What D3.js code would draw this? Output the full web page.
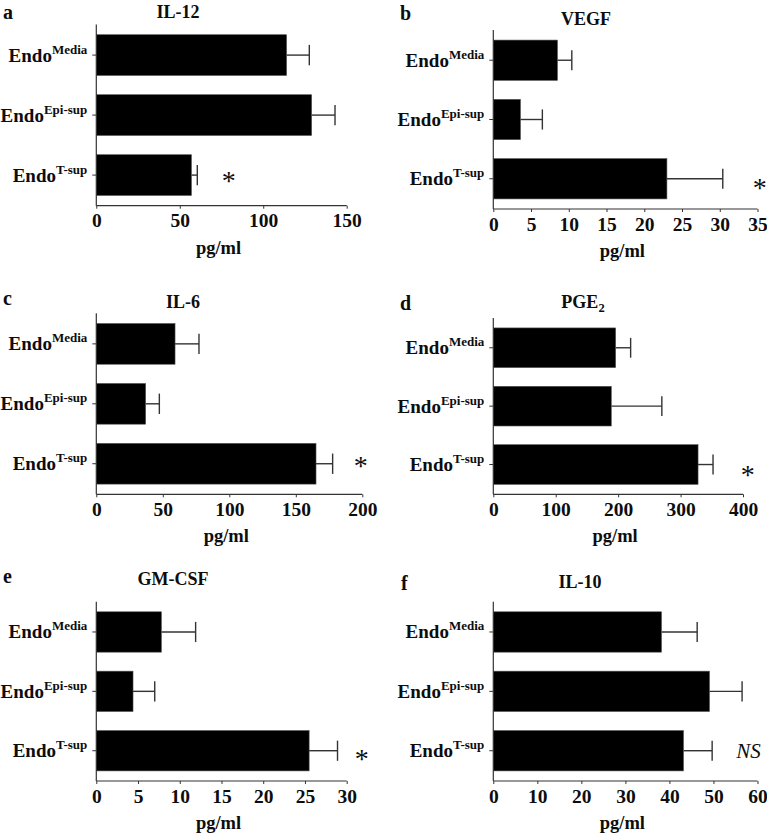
<!DOCTYPE html>
<html>
<head>
<meta charset="utf-8">
<script src="https://cdn.jsdelivr.net/npm/d3@7"></script>
<style>
  html, body { margin: 0; padding: 0; background: #fff; }
  svg { display: block; }
  text { font-family: "Liberation Serif", "Times New Roman", serif; }
</style>
</head>
<body>
<div id="chart"></div>
<script>
// ---- DATA ----
const categories = ["Media", "Epi-sup", "T-sup"];
const panelLetters = ["a", "b", "c", "d", "e", "f"];
const titles = ["IL-12", "VEGF", "IL-6", "PGE2", "GM-CSF", "IL-10"];
const axisLabel = "pg/ml";

const il12Means = [114, 129, 57];
const il12Errors = [13.6, 14, 3.5];
const il12Ticks = [0, 50, 100, 150];

const vegfMeans = [8.5, 3.6, 23.0];
const vegfErrors = [1.9, 2.9, 7.4];
const vegfTicks = [0, 5, 10, 15, 20, 25, 30, 35];

const il6Means = [59.2, 37.1, 165.2];
const il6Errors = [18, 10.3, 12.5];
const il6Ticks = [0, 50, 100, 150, 200];

const pge2Means = [196, 189, 328];
const pge2Errors = [24, 81, 24];
const pge2Ticks = [0, 100, 200, 300, 400];

const gmcsfMeans = [7.8, 4.4, 25.5];
const gmcsfErrors = [4.1, 2.6, 3.4];
const gmcsfTicks = [0, 5, 10, 15, 20, 25, 30];

const il10Means = [38.2, 49.1, 43.2];
const il10Errors = [8.1, 7.4, 6.5];
const il10Ticks = [0, 10, 20, 30, 40, 50, 60];

const significance = ["*", "*", "*", "*", "*", "NS"];

// ---- LAYOUT (positions only) ----
const layout = [
  { x0: 96.3,  x1: 346.7, top: 24.5,  bot: 205.7, tx: 178, ty: 18.3,  lx: 3,   ly: 18.5,  mx: 228.7, mdy: 2 },
  { x0: 493.3, x1: 757.5, top: 30,    bot: 209,   tx: 586, ty: 25,    lx: 400, ly: 20,    mx: 759.7, mdy: 5 },
  { x0: 96.3,  x1: 362.3, top: 313.3, bot: 494.3, tx: 183, ty: 308.3, lx: 3,   ly: 305,   mx: 360.7, mdy: -2 },
  { x0: 493.3, x1: 743,   top: 318,   bot: 494.3, tx: 583, ty: 308,   lx: 400, ly: 310,   mx: 747.7, mdy: 6 },
  { x0: 96.3,  x1: 346.7, top: 601.7, bot: 781,   tx: 173, ty: 585,   lx: 3,   ly: 583.3, mx: 361.7, mdy: 4.5 },
  { x0: 493.3, x1: 757.5, top: 601.7, bot: 781,   tx: 580, ty: 588,   lx: 401, ly: 590,   mx: 736.3, mdy: 7 }
];

const panels = [
  { means: il12Means, errors: il12Errors, ticks: il12Ticks },
  { means: vegfMeans, errors: vegfErrors, ticks: vegfTicks },
  { means: il6Means, errors: il6Errors, ticks: il6Ticks },
  { means: pge2Means, errors: pge2Errors, ticks: pge2Ticks },
  { means: gmcsfMeans, errors: gmcsfErrors, ticks: gmcsfTicks },
  { means: il10Means, errors: il10Errors, ticks: il10Ticks }
];

const W = 767, H = 835;
const svg = d3.select("#chart").append("svg")
  .attr("width", W).attr("height", H)
  .attr("viewBox", `0 0 ${W} ${H}`);

const axisColor = "#333";
const textColor = "#0d0d0d";

panels.forEach((p, i) => {
  const L = layout[i];
  const g = svg.append("g");
  const ticks = p.ticks;
  const x = d3.scaleLinear().domain([ticks[0], ticks[ticks.length - 1]]).range([L.x0, L.x1]);
  const y = d3.scaleBand().domain(categories).range([L.top, L.bot])
    .paddingInner(0.32).paddingOuter(0.17);

  const rows = categories.map((c, j) => ({ cat: c, mean: p.means[j], err: p.errors[j] }));

  // bars
  g.selectAll("rect.bar").data(rows).enter().append("rect")
    .attr("class", "bar")
    .attr("x", x(0))
    .attr("y", d => y(d.cat))
    .attr("width", d => x(d.mean) - x(0))
    .attr("height", y.bandwidth())
    .attr("fill", "#000")
    .attr("stroke", "#555")
    .attr("stroke-width", 0.6);

  // error bars (upper side only)
  const capH = y.bandwidth() * 0.5;
  g.selectAll("line.err").data(rows).enter().append("line")
    .attr("x1", d => x(d.mean)).attr("x2", d => x(d.mean + d.err))
    .attr("y1", d => y(d.cat) + y.bandwidth() / 2)
    .attr("y2", d => y(d.cat) + y.bandwidth() / 2)
    .attr("stroke", axisColor).attr("stroke-width", 1.4);
  g.selectAll("line.cap").data(rows).enter().append("line")
    .attr("x1", d => x(d.mean + d.err)).attr("x2", d => x(d.mean + d.err))
    .attr("y1", d => y(d.cat) + y.bandwidth() / 2 - capH / 2)
    .attr("y2", d => y(d.cat) + y.bandwidth() / 2 + capH / 2)
    .attr("stroke", axisColor).attr("stroke-width", 1.4);

  // y axis
  const yAxis = d3.axisLeft(y).tickSize(4).tickFormat("");
  const ya = g.append("g").attr("transform", `translate(${L.x0},0)`).call(yAxis);
  ya.select(".domain").attr("d", `M0,${L.top}V${L.bot}`).attr("stroke", axisColor).attr("stroke-width", 1.2);
  ya.selectAll(".tick line").attr("stroke", axisColor).attr("stroke-width", 1);

  // y labels
  g.selectAll("text.ylab").data(categories).enter().append("text")
    .attr("x", L.x0 - 9)
    .attr("y", d => y(d) + y.bandwidth() / 2 + 6.5)
    .attr("text-anchor", "end")
    .attr("font-weight", "bold")
    .attr("font-size", 19)
    .attr("fill", textColor)
    .each(function (d) {
      const t = d3.select(this);
      t.append("tspan").text("Endo");
      t.append("tspan").attr("dy", -8).attr("font-size", 13).text(d);
    });

  // x axis
  const xAxis = d3.axisBottom(x).tickValues(ticks).tickSize(3).tickPadding(5).tickFormat(d3.format("d"));
  const xa = g.append("g").attr("transform", `translate(0,${L.bot})`).call(xAxis);
  xa.select(".domain").attr("d", `M${L.x0},0H${L.x1}`).attr("stroke", axisColor).attr("stroke-width", 1.2);
  xa.selectAll(".tick line").attr("stroke", axisColor).attr("stroke-width", 1);
  xa.selectAll(".tick text")
    .attr("font-family", "'Liberation Serif', 'Times New Roman', serif")
    .attr("font-weight", "bold")
    .attr("font-size", 19.5)
    .attr("fill", textColor)
    .attr("dy", null)
    .attr("y", 21.5);

  // axis label
  g.append("text")
    .attr("x", (L.x0 + L.x1) / 2 - 3)
    .attr("y", L.bot + 48)
    .attr("text-anchor", "middle")
    .attr("font-weight", "bold")
    .attr("font-size", 18.5)
    .attr("fill", textColor)
    .text(axisLabel);

  // title
  const title = g.append("text")
    .attr("x", L.tx).attr("y", L.ty)
    .attr("text-anchor", "middle")
    .attr("font-weight", "bold")
    .attr("font-size", 18)
    .attr("fill", textColor);
  if (titles[i] === "PGE2") {
    title.append("tspan").text("PGE");
    title.append("tspan").attr("dy", 4).attr("font-size", 12.5).text("2");
  } else {
    title.text(titles[i]);
  }

  // panel letter
  g.append("text")
    .attr("x", L.lx).attr("y", L.ly)
    .attr("font-weight", "bold")
    .attr("font-size", 20)
    .attr("fill", textColor)
    .text(panelLetters[i]);

  // significance mark next to T-sup bar
  const cy = y(categories[2]) + y.bandwidth() / 2;
  if (significance[i] === "NS") {
    g.append("text")
      .attr("x", L.mx).attr("y", cy + L.mdy)
      .attr("font-style", "italic")
      .attr("font-size", 21)
      .attr("fill", textColor)
      .text("NS");
  } else {
    g.append("text")
      .attr("x", L.mx).attr("y", cy + L.mdy + 13.2)
      .attr("text-anchor", "middle")
      .attr("font-size", 28)
      .attr("fill", textColor)
      .text(significance[i]);
  }
});
</script>
</body>
</html>
